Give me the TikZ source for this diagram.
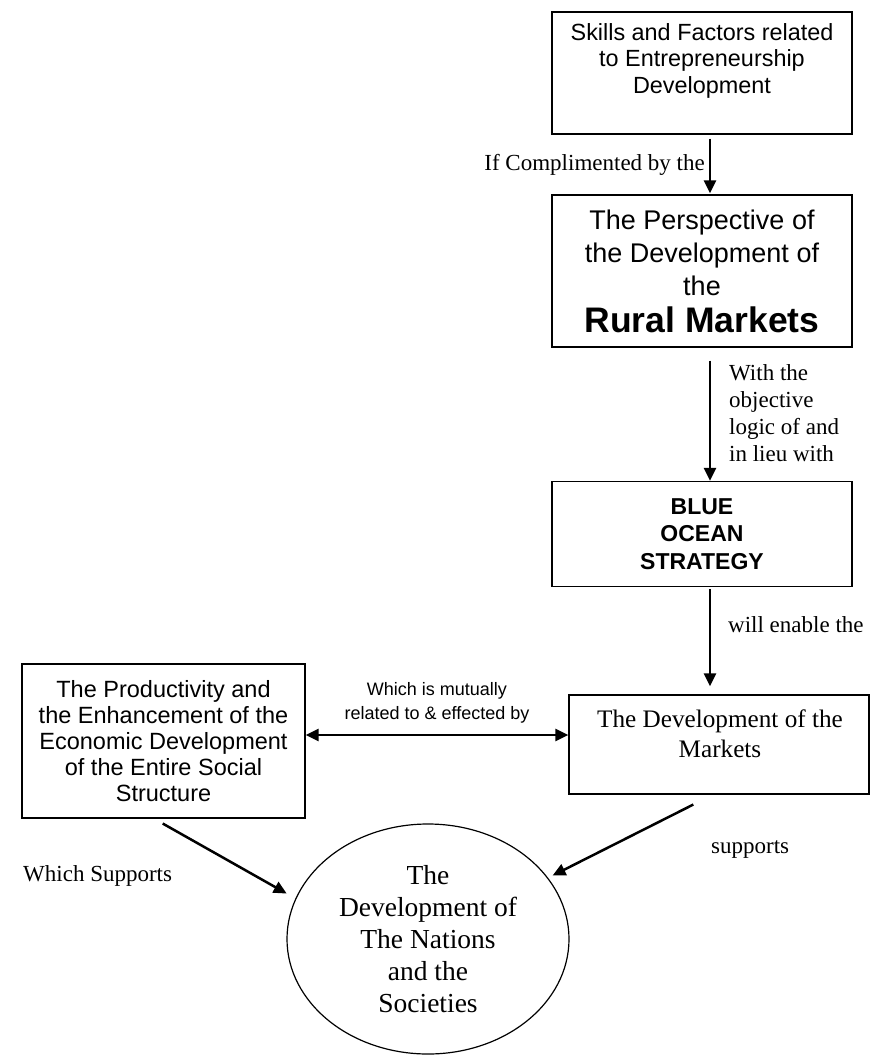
\documentclass[tikz,border=0pt]{standalone}
\usepackage{fontspec}
\setmainfont{Liberation Serif}
\setsansfont{Liberation Sans}
\usetikzlibrary{arrows.meta,shapes.geometric}

\tikzset{
  box/.style={draw, line width=1.2pt, inner sep=0pt, minimum width=300pt},
  conn/.style={line width=2.5pt, ->},
  lbl/.style={font=\fontsize{23}{27}\selectfont, align=left, inner sep=0pt},
}

\begin{document}
\begin{tikzpicture}[x=1pt,y=-1pt,>={Triangle[length=13pt,width=12pt]}]
    \useasboundingbox (0,0) rectangle (878,1061);
    % right column
    \node[box, minimum height=122pt] (skills) at (702,73) {};
    \node[font=\sffamily\fontsize{23.4}{26.5}\selectfont, align=center, inner sep=0pt] (skillstext) at (702,60.5) {Skills and Factors related\\to Entrepreneurship\\Development};
    \node[box, minimum height=152pt, font=\sffamily\fontsize{27}{33}\selectfont, align=center] (persp) at (702,271) {The Perspective of\\the Development of\\the\\[4pt]{\fontsize{35.5}{40}\selectfont\bfseries Rural Markets}};
    \node[box, minimum height=105pt, font=\sffamily\bfseries\fontsize{23}{27.5}\selectfont, align=center] (ocean) at (702,534) {BLUE\\OCEAN\\STRATEGY};
    \node[box, minimum height=99pt] (markets) at (719,744.5) {};
    \node[font=\fontsize{25.2}{30}\selectfont, align=center, inner sep=0pt] (marketstext) at (720,733.5) {The Development of the\\Markets};
    % left box and ellipse
    \node[box, minimum width=283pt, minimum height=154pt, font=\sffamily\fontsize{23.5}{26}\selectfont, align=center] (prod) at (163.5,741) {The Productivity and\\the Enhancement of the\\Economic Development\\of the Entire Social\\Structure};
    \node[draw, ellipse, line width=1.2pt, minimum width=282pt, minimum height=230pt, inner sep=0pt, font=\fontsize{27.5}{32}\selectfont, align=center] (nations) at (428,939) {The\\Development of\\The Nations\\and the\\Societies};

    \foreach \a/\b/\s/\t in {skills/persp/4pt/1pt, persp/ocean/13pt/0pt, ocean/markets/2pt/8pt}
      {\draw[conn, shorten <=\s, shorten >=\t] ([xshift=8pt]\a.south) -- ([xshift=8pt]\a.south |- \b.north);}
    \draw[conn, <->] ([yshift=6pt]prod.east) -- ([yshift=6pt]prod.east -| markets.west);
    \draw[conn, shorten <=10pt, shorten >=10pt] ([xshift=-9.5pt]prod.south) -- (nations.163);
    \draw[conn, shorten <=22pt, shorten >=5pt] ([xshift=-6pt]markets.south) -- (nations.27);

    % labels
    \node[lbl, anchor=base east] (ifcomp) at (705,170) {If Complimented by the};
    \node[lbl, anchor=north west] (withthe) at (729,364) {With the\\objective\\logic of and\\in lieu with};
    \node[lbl, anchor=base west] (enable) at (728,632) {will enable the};
    \node[font=\sffamily\fontsize{18}{24.5}\selectfont, align=center, inner sep=0pt, anchor=north] (mutual) at (437,682) {Which is mutually\\related to \& effected by};
    \node[lbl, anchor=base west] (whichsup) at (23,881) {Which Supports};
    \node[lbl, anchor=base west] (supports) at (711,853) {supports};
  \end{tikzpicture}
\end{document}
